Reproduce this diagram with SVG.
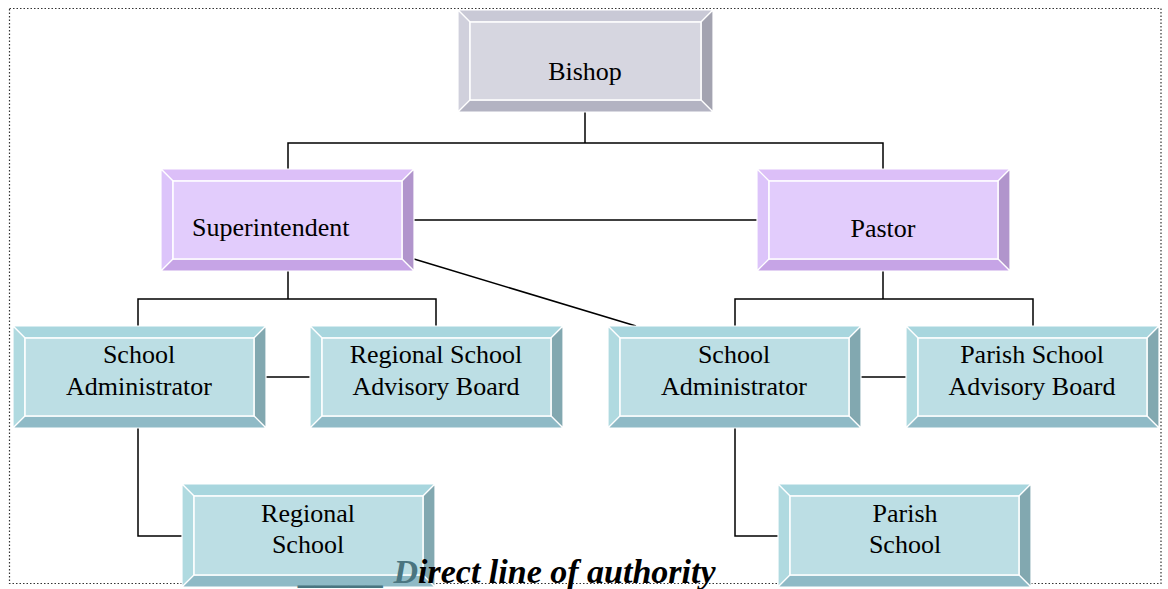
<svg xmlns="http://www.w3.org/2000/svg" width="1168" height="589" viewBox="0 0 1168 589">
<style>
.lbl{font-family:"Liberation Serif","Times New Roman",serif;font-size:26px;fill:#000;text-anchor:middle}
.bev polygon{stroke:#fff;stroke-width:1.2}
.bev rect{stroke:#fff;stroke-width:1.5}
.gray .t{fill:#c9c9d6}.gray .l{fill:#d0d0dc}.gray .r{fill:#a3a3b0}.gray .b{fill:#b3b3c2}.gray .f{fill:#d6d6e0}
.purple .t{fill:#dcbff8}.purple .l{fill:#dcc4fa}.purple .r{fill:#b195cc}.purple .b{fill:#c6a4e6}.purple .f{fill:#e2ccfc}
.teal .t{fill:#a8d6de}.teal .l{fill:#b0dae0}.teal .r{fill:#82a8b0}.teal .b{fill:#8fbac6}.teal .f{fill:#bcdee4}
.conn line,.conn polyline{stroke:#000;stroke-width:1.5;fill:none}
.legend{font-family:"Liberation Serif","Times New Roman",serif;font-size:34px;font-weight:bold;font-style:italic}
</style>
<rect x="9.5" y="8.5" width="1151.5" height="575" fill="none" stroke="#333" stroke-width="1.2" stroke-dasharray="1.5 2"/>
<g id="connectors" class="conn">
<line x1="585" y1="112" x2="585" y2="143"/>
<polyline points="288,169 288,143 883,143 883,169"/>
<line x1="414" y1="220" x2="757" y2="220"/>
<line x1="414" y1="259" x2="636" y2="326"/>
<line x1="288" y1="271" x2="288" y2="299"/>
<polyline points="138,326 138,299 436,299 436,326"/>
<line x1="883" y1="271" x2="883" y2="299"/>
<polyline points="735,326 735,299 1033,299 1033,326"/>
<line x1="266" y1="377" x2="310" y2="377"/>
<line x1="861" y1="377" x2="906" y2="377"/>
<polyline points="138,428 138,536 182,536"/>
<polyline points="735,428 735,536 778,536"/>
</g>
<g id="bishop" class="bev gray">
<polygon class="t" points="458,10 713,10 701,22 470,22"/>
<polygon class="l" points="458,10 470,22 470,100 458,112"/>
<polygon class="r" points="713,10 713,112 701,100 701,22"/>
<polygon class="b" points="458,112 470,100 701,100 713,112"/>
<rect class="f" x="470" y="22" width="231" height="78"/>
<text class="lbl" x="585" y="80">Bishop</text>
</g>
<g id="superintendent" class="bev purple">
<polygon class="t" points="161,169 414,169 402,181 173,181"/>
<polygon class="l" points="161,169 173,181 173,259 161,271"/>
<polygon class="r" points="414,169 414,271 402,259 402,181"/>
<polygon class="b" points="161,271 173,259 402,259 414,271"/>
<rect class="f" x="173" y="181" width="229" height="78"/>
<text class="lbl" x="192" y="236" style="text-anchor:start">Superintendent</text>
</g>
<g id="pastor" class="bev purple">
<polygon class="t" points="757,169 1010,169 998,181 769,181"/>
<polygon class="l" points="757,169 769,181 769,259 757,271"/>
<polygon class="r" points="1010,169 1010,271 998,259 998,181"/>
<polygon class="b" points="757,271 769,259 998,259 1010,271"/>
<rect class="f" x="769" y="181" width="229" height="78"/>
<text class="lbl" x="883" y="237">Pastor</text>
</g>
<g id="school-admin-regional" class="bev teal">
<polygon class="t" points="13,326 266,326 254,338 25,338"/>
<polygon class="l" points="13,326 25,338 25,416 13,428"/>
<polygon class="r" points="266,326 266,428 254,416 254,338"/>
<polygon class="b" points="13,428 25,416 254,416 266,428"/>
<rect class="f" x="25" y="338" width="229" height="78"/>
<text class="lbl" x="139" y="363">School</text>
<text class="lbl" x="139" y="395">Administrator</text>
</g>
<g id="regional-board" class="bev teal">
<polygon class="t" points="310,326 563,326 551,338 322,338"/>
<polygon class="l" points="310,326 322,338 322,416 310,428"/>
<polygon class="r" points="563,326 563,428 551,416 551,338"/>
<polygon class="b" points="310,428 322,416 551,416 563,428"/>
<rect class="f" x="322" y="338" width="229" height="78"/>
<text class="lbl" x="436" y="363">Regional School</text>
<text class="lbl" x="436" y="395">Advisory Board</text>
</g>
<g id="school-admin-parish" class="bev teal">
<polygon class="t" points="608,326 861,326 849,338 620,338"/>
<polygon class="l" points="608,326 620,338 620,416 608,428"/>
<polygon class="r" points="861,326 861,428 849,416 849,338"/>
<polygon class="b" points="608,428 620,416 849,416 861,428"/>
<rect class="f" x="620" y="338" width="229" height="78"/>
<text class="lbl" x="734" y="363">School</text>
<text class="lbl" x="734" y="395">Administrator</text>
</g>
<g id="parish-board" class="bev teal">
<polygon class="t" points="906,326 1159,326 1147,338 918,338"/>
<polygon class="l" points="906,326 918,338 918,416 906,428"/>
<polygon class="r" points="1159,326 1159,428 1147,416 1147,338"/>
<polygon class="b" points="906,428 918,416 1147,416 1159,428"/>
<rect class="f" x="918" y="338" width="229" height="78"/>
<text class="lbl" x="1032" y="363">Parish School</text>
<text class="lbl" x="1032" y="395">Advisory Board</text>
</g>
<g id="regional-school" class="bev teal">
<polygon class="t" points="182,484 435,484 423,496 194,496"/>
<polygon class="l" points="182,484 194,496 194,575 182,587"/>
<polygon class="r" points="435,484 435,587 423,575 423,496"/>
<polygon class="b" points="182,587 194,575 423,575 435,587"/>
<rect class="f" x="194" y="496" width="229" height="79"/>
<text class="lbl" x="308" y="522">Regional</text>
<text class="lbl" x="308" y="553">School</text>
</g>
<g id="parish-school" class="bev teal">
<polygon class="t" points="778,484 1031,484 1019,496 790,496"/>
<polygon class="l" points="778,484 790,496 790,575 778,587"/>
<polygon class="r" points="1031,484 1031,587 1019,575 1019,496"/>
<polygon class="b" points="778,587 790,575 1019,575 1031,587"/>
<rect class="f" x="790" y="496" width="229" height="79"/>
<text class="lbl" x="905" y="522">Parish</text>
<text class="lbl" x="905" y="553">School</text>
</g>
<g id="legend">
<text class="legend" x="300" y="583"><tspan fill="#4a7580">_____ D</tspan><tspan fill="#000">irect line of authority</tspan></text>
</g>
</svg>
